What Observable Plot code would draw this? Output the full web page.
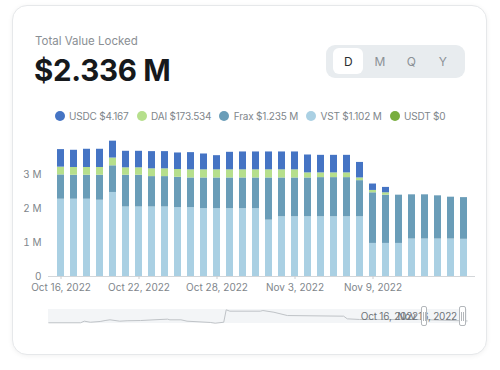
<!DOCTYPE html>
<html><head><meta charset="utf-8">
<script src="https://cdn.jsdelivr.net/npm/d3@7"></script>
<script src="https://cdn.jsdelivr.net/npm/@observablehq/plot@0.6"></script>
<style>
html,body{margin:0;padding:0;background:#fff;}
#root{position:relative;width:500px;height:370px;overflow:hidden;font-family:Inter,"Noto Sans",sans-serif;}
#card{position:absolute;left:11.5px;top:5px;width:475px;height:350px;border:1px solid #e6e8ea;border-radius:15px;box-shadow:0 1px 5px rgba(0,0,0,0.06);background:#fff;box-sizing:border-box;}
.abs{position:absolute;}
#label{left:35px;top:36px;font-size:11.5px;line-height:1;color:#8a8f94;white-space:nowrap;}
#big{left:34px;top:56px;font-size:29.5px;line-height:1;font-weight:700;color:#16191c;white-space:nowrap;letter-spacing:-0.3px;}
#toggle{left:326px;top:44.5px;width:139px;height:33px;border-radius:9px;background:#e8ecef;}
#sel{left:6.7px;top:3.8px;width:30.6px;height:25.4px;border-radius:6px;background:#fff;}
.tg{position:absolute;top:0;width:31.5px;height:33px;line-height:33px;text-align:center;font-size:12px;color:#8b9196;}
#legend{left:0;top:109px;width:500px;height:14px;display:flex;justify-content:center;align-items:center;gap:8px;font-size:10px;color:#80868b;letter-spacing:-0.2px;}
.li{display:flex;align-items:center;white-space:nowrap;}
.dot{width:10px;height:10px;border-radius:5px;margin-right:4.5px;}
#chart{left:0;top:130px;}
#track{left:48.3px;top:309.3px;width:418.4px;height:13.4px;background:#f3f5f7;}
#nav{left:0;top:300px;}
.nl{position:absolute;top:310px;font-size:10px;line-height:12px;color:#6f7479;white-space:nowrap;text-align:right;width:80px;letter-spacing:-0.2px;}
.hd{position:absolute;top:305.7px;width:6.7px;height:20.3px;background:#fff;border:1px solid #b3b7bb;border-radius:2px;box-sizing:border-box;}
.hd::before,.hd::after{content:"";position:absolute;top:5px;height:9px;width:0;border-left:1px solid #b3b7bb;}
.hd::before{left:1.2px;}
.hd::after{left:3.2px;}
</style>
</head><body>
<div id="root">
  <div id="card"></div>
  <div id="label" class="abs">Total Value Locked</div>
  <div id="big" class="abs">$2.336 M</div>
  <div id="toggle" class="abs"><div id="sel" class="abs"></div></div>
  <div id="legend" class="abs"></div>
  <div id="chart" class="abs"></div>
  <div id="track" class="abs"></div>
  <div id="nav" class="abs"></div>
  <div class="nl" style="left:338px;">Oct 16, 2022</div>
  <div class="nl" style="left:377px;">Nov 16, 2022</div>
  <div class="hd" style="left:420.7px;"></div>
  <div class="hd" style="left:459px;"></div>
</div>
<script>
// ---- data ----
const dates = ["2022-10-16","2022-10-17","2022-10-18","2022-10-19","2022-10-20","2022-10-21","2022-10-22","2022-10-23",
  "2022-10-24","2022-10-25","2022-10-26","2022-10-27","2022-10-28","2022-10-29","2022-10-30","2022-10-31",
  "2022-11-01","2022-11-02","2022-11-03","2022-11-04","2022-11-05","2022-11-06","2022-11-07","2022-11-08",
  "2022-11-09","2022-11-10","2022-11-11","2022-11-12","2022-11-13","2022-11-14","2022-11-15","2022-11-16"];
// values in millions of USD
const vst  = [2.29,2.29,2.29,2.26,2.49,2.06,2.06,2.06,2.06,2.04,2.04,2.01,2.01,2.01,2.01,2.01,
              1.67,1.77,1.77,1.77,1.77,1.77,1.77,1.77,0.98,0.98,0.98,1.11,1.11,1.11,1.11,1.102];
const frax = [0.72,0.71,0.71,0.74,0.79,0.94,0.94,0.90,0.90,0.90,0.88,0.91,0.91,0.91,0.91,0.91,
              1.25,1.15,1.15,1.15,1.16,1.16,1.16,1.07,1.50,1.43,1.43,1.31,1.31,1.28,1.24,1.235];
const dai  = [0.23,0.23,0.23,0.23,0.23,0.22,0.22,0.23,0.23,0.23,0.24,0.24,0.24,0.24,0.24,0.24,
              0.24,0.24,0.24,0.15,0.14,0.14,0.14,0.08,0.07,0.07,0,0,0,0,0,0.000174];
const usdc = [0.52,0.51,0.54,0.54,0.50,0.49,0.49,0.51,0.51,0.49,0.51,0.47,0.42,0.52,0.53,0.53,
              0.53,0.53,0.53,0.53,0.52,0.52,0.52,0.46,0.19,0.16,0,0,0,0,0,0.000004];
const usdt = [0,0,0,0,0,0,0,0,0,0,0,0,0,0,0,0,0,0,0,0,0,0,0,0,0,0,0,0,0,0,0,0];
const seriesNames = ["USDC","DAI","Frax","VST","USDT"];
const seriesColors = ["#4574c4","#b6df8c","#6a9db8","#aad0e3","#78ad3e"];
const legendValues = ["$4.167","$173.534","$1.235 M","$1.102 M","$0"];
const xTickDates = ["2022-10-16","2022-10-22","2022-10-28","2022-11-03","2022-11-09"];
const yTicks = [0,1,2,3];
// navigator overview (day offset, value in M)
const navDay = [0,26,29,34,42,46,50,58,64,75,86,97,99,108,113,132,136,143,145,148,173,175,184,195,241,244,254,303,342];
const navVal = [0.4,0.4,1.9,0.9,1.6,2.5,3.2,1.9,2.3,2.5,3.2,3.8,3.2,3.2,1.9,0.7,0,0.9,12.6,11.3,11.3,11.9,10.3,7.2,6.6,4.1,3.5,3.5,2.1];

// ---- build ----
const bySeries = {USDC: usdc, DAI: dai, Frax: frax, VST: vst, USDT: usdt};
const stackOrder = ["VST","Frax","DAI","USDC","USDT"];
const rows = [];
stackOrder.forEach(s => dates.forEach((d, i) => rows.push({date: d, series: s, value: bySeries[s][i] * 1e6})));

const fmtDate = d3.utcFormat("%b %-d, %Y");
const legend = document.getElementById("legend");
seriesNames.forEach((s, i) => {
  const it = document.createElement("div"); it.className = "li";
  const dot = document.createElement("div"); dot.className = "dot"; dot.style.background = seriesColors[i];
  const t = document.createElement("span"); t.textContent = s + " " + legendValues[i];
  it.appendChild(dot); it.appendChild(t); legend.appendChild(it);
});

const tg = document.getElementById("toggle");
["D","M","Q","Y"].forEach((l, i) => {
  const e = document.createElement("div"); e.className = "tg"; e.textContent = l;
  e.style.left = (6.7 + i * 31.5) + "px"; if (i === 0) e.style.color = "#2a2e32";
  tg.appendChild(e);
});

const chart = Plot.plot({
  width: 500, height: 170,
  marginLeft: 48, marginRight: 25, marginTop: 11, marginBottom: 24,
  style: {fontFamily: "Inter, 'Noto Sans', sans-serif", fontSize: "10px", background: "transparent"},
  x: {type: "band", domain: dates, paddingInner: 0.5, paddingOuter: 0.25, axis: null},
  y: {domain: [0, 4e6], axis: null},
  color: {domain: seriesNames, range: seriesColors},
  marks: [
    Plot.barY(rows, {x: "date", y: "value", fill: "series", order: stackOrder}),
    Plot.ruleY([0], {stroke: "#d3d6d9", strokeWidth: 1}),
    Plot.axisX({ticks: xTickDates, tickFormat: d => fmtDate(new Date(d)), tickSize: 3, tickPadding: 4,
      stroke: "#c9ccd0", fill: "#80868b", fontSize: 10, label: null}),
    Plot.axisY({ticks: yTicks.map(v => v * 1e6), tickFormat: v => v === 0 ? "0" : (v / 1e6) + " M",
      tickSize: 0, tickPadding: 7, fill: "#80868b", fontSize: 10, label: null})
  ]
});
document.getElementById("chart").appendChild(chart);

const nav = Plot.plot({
  width: 500, height: 30,
  marginLeft: 48.3, marginRight: 33.3, marginTop: 9.3, marginBottom: 7.3,
  style: {background: "transparent"},
  x: {domain: [0, 342], axis: null},
  y: {domain: [0, 12.6], axis: null},
  marks: [
    Plot.line(navDay.map((d, i) => ({d, v: navVal[i]})), {x: "d", y: "v", stroke: "#bfc3c7", strokeWidth: 1})
  ]
});
document.getElementById("nav").appendChild(nav);
</script>
</body></html>
